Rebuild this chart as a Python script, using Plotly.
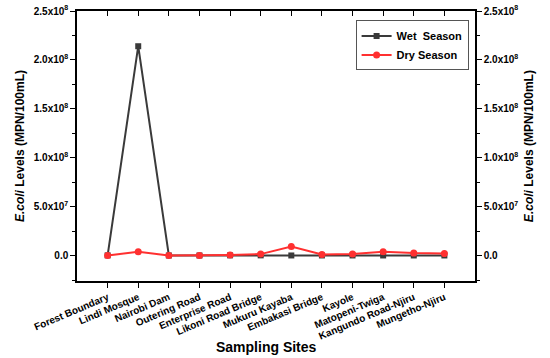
import plotly.graph_objects as go

sites = ["Forest Boundary", "Lindi Mosque", "Nairobi Dam", "Outering Road",
         "Enterprise Road", "Likoni Road Bridge", "Mukuru Kayaba", "Embakasi Bridge",
         "Kayole", "Matopeni-Twiga", "Kangundo Road-Njiru", "Mungetho-Njiru"]
wet = [2.0e5, 2.14e8, 1.0e5, 1.0e5, 2.0e5, 2.0e5, 1.0e5, 1.0e5, 1.0e5, 1.0e5, 1.0e5, 1.0e5]
dry = [1.0e5, 3.8e6, 1.0e5, 1.0e5, 6.0e5, 1.5e6, 9.2e6, 1.0e6, 1.5e6, 4.0e6, 2.5e6, 2.0e6]
ytick_vals = [0, 5e7, 1e8, 1.5e8, 2e8, 2.5e8]
ytick_text = ["0.0", "5.0x10<sup>7</sup>", "1.0x10<sup>8</sup>", "1.5x10<sup>8</sup>",
              "2.0x10<sup>8</sup>", "2.5x10<sup>8</sup>"]
y_title = "<i>E.coli</i> Levels (MPN/100mL)"
x_title = "Sampling Sites"

FONT = "Liberation Sans"
WET_C = "#3a3a3a"
DRY_C = "#ff3030"

fig = go.Figure()
fig.add_trace(go.Scatter(x=sites, y=wet, name="Wet  Season", mode="lines+markers",
                         line=dict(color=WET_C, width=2),
                         marker=dict(symbol="square", size=6, color=WET_C)))
fig.add_trace(go.Scatter(x=sites, y=dry, name="Dry Season", mode="lines+markers",
                         line=dict(color=DRY_C, width=2),
                         marker=dict(symbol="circle", size=7, color=DRY_C)))
# invisible helper traces for the mirrored axes
fig.add_trace(go.Scatter(x=sites, y=dry, yaxis="y2", mode="lines", showlegend=False,
                         hoverinfo="skip", line=dict(width=0), opacity=0))
fig.add_trace(go.Scatter(x=sites, y=dry, xaxis="x2", mode="lines", showlegend=False,
                         hoverinfo="skip", line=dict(width=0), opacity=0))

yrange = [-2.6e7, 2.5e8]
tickfont = dict(family=FONT, size=10, color="black", weight="bold")
common_y = dict(range=yrange, tickmode="array", tickvals=ytick_vals, ticktext=ytick_text,
                automargin=False,
                showgrid=False, zeroline=False, showline=True, linecolor="black", linewidth=1.5,
                ticks="outside", ticklen=5, tickwidth=1.2, tickcolor="black", tickfont=tickfont,
                minor=dict(tickmode="linear", tick0=0, dtick=2.5e7, ticks="outside",
                           ticklen=3, tickwidth=1, tickcolor="black"))

title_font_y = dict(family=FONT, size=12, color="black", weight="bold")
title_font_x = dict(family=FONT, size=14, color="black", weight="bold")

fig.update_layout(
    width=550, height=358,
    margin=dict(l=77, r=75, t=11, b=77),
    paper_bgcolor="white", plot_bgcolor="white",
    font=dict(family=FONT, color="black"),
    xaxis=dict(type="category", range=[-1, 12], showgrid=False, zeroline=False, automargin=False,
               showline=True, linecolor="black", linewidth=1.5,
               ticks="outside", ticklen=5, tickwidth=1.2, tickcolor="black",
               tickangle=-23, tickfont=tickfont),
    xaxis2=dict(type="category", range=[-1, 12], overlaying="x", side="top", anchor="y",
                automargin=False,
                showgrid=False, zeroline=False, showline=True, linecolor="black", linewidth=1.5,
                ticks="inside", ticklen=5, tickwidth=1.2, tickcolor="black",
                showticklabels=False),
    yaxis=common_y,
    yaxis2=dict(**common_y, overlaying="y", side="right", anchor="x"),
    legend=dict(x=0.70, y=0.965, xanchor="left", yanchor="top",
                bordercolor="#555555", borderwidth=1, bgcolor="white",
                font=dict(family=FONT, size=11, color="black", weight="bold"),
                tracegroupgap=0, itemwidth=30),
    showlegend=True,
    annotations=[
        dict(text=y_title, xref="paper", yref="paper", x=-0.143, y=0.5, textangle=-90,
             showarrow=False, xanchor="center", yanchor="middle", font=title_font_y),
        dict(text=y_title, xref="paper", yref="paper", x=1.136, y=0.5, textangle=-90,
             showarrow=False, xanchor="center", yanchor="middle", font=title_font_y),
        dict(text=x_title, xref="paper", yref="paper", x=0.475, y=-0.246,
             showarrow=False, xanchor="center", yanchor="middle", font=title_font_x),
    ],
)

fig.write_html("out.html", config={"displayModeBar": False},
               post_script="document.body.style.margin='0';")
